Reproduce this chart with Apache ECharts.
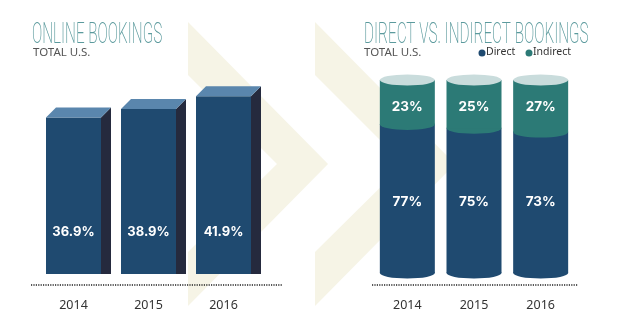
<!DOCTYPE html>
<html>
<head>
<meta charset="utf-8">
<script src="https://cdn.jsdelivr.net/npm/echarts@6/dist/echarts.min.js"></script>
<style>html,body{margin:0;padding:0;background:#fff;}#c{width:620px;height:330px;}</style>
</head>
<body>
<div id="c"></div>
<script>
var years = ['2014', '2015', '2016'];
var onlineBookings = [36.9, 38.9, 41.9];
var directShare = [77, 75, 73];
var indirectShare = [23, 25, 27];

var NAVY = '#1f4a70', NAVY_TOP = '#5a86ad', NAVY_SIDE = '#252a3e';
var TEAL = '#2c7a76', CAP = '#c9dcdc', BEIGE = '#f6f4e6';

function chevron(L) {
  return {
    type: 'polygon', silent: true, z: -10,
    shape: { points: [[L, 22], [L + 140, 164], [L, 306], [L, 252], [L + 89, 164], [L, 75]] },
    style: { fill: BEIGE }
  };
}
function dotted(x1, x2, y) {
  return { type: 'line', silent: true, shape: { x1: x1, y1: y, x2: x2, y2: y },
    style: { stroke: '#222', lineWidth: 1.3, lineDash: [1.2, 1.2] } };
}
function title(x, txt) {
  return { type: 'text', x: x, y: 20, scaleX: 0.51, silent: true,
    style: { text: txt, fill: '#5b9a9d', font: '200 30px Roboto, "Open Sans", sans-serif' } };
}
function sub(x) {
  return { type: 'text', x: x, y: 47, silent: true,
    style: { text: 'TOTAL U.S.', fill: '#555', font: '11.5px "Noto Sans", Arial, sans-serif' } };
}

var chart = echarts.init(document.getElementById('c'), null, { renderer: 'canvas' });
chart.setOption({
  animation: false,
  backgroundColor: '#fff',
  graphic: [
    chevron(188), chevron(315),
    title(32, 'ONLINE BOOKINGS'), sub(33),
    title(364, 'DIRECT VS. INDIRECT BOOKINGS'), sub(364),
    dotted(31, 282, 285), dotted(372, 578, 285),
    { type: 'circle', shape: { cx: 482, cy: 53, r: 3.5 }, style: { fill: NAVY } },
    { type: 'text', x: 486, y: 47, style: { text: 'Direct', fill: '#333', font: '10.5px "Noto Sans", Arial, sans-serif' } },
    { type: 'circle', shape: { cx: 529, cy: 53, r: 3.5 }, style: { fill: TEAL } },
    { type: 'text', x: 533, y: 47, style: { text: 'Indirect', fill: '#333', font: '10.5px "Noto Sans", Arial, sans-serif' } }
  ],
  grid: [
    { left: 36, width: 225, top: 62, bottom: 56 },
    { left: 374, width: 200, top: 80, bottom: 57 }
  ],
  xAxis: [
    { type: 'category', gridIndex: 0, data: years, axisLine: { show: false }, axisTick: { show: false },
      axisLabel: { margin: 25, color: '#333', fontSize: 12.5, fontFamily: '"Noto Sans", Arial, sans-serif' } },
    { type: 'category', gridIndex: 1, data: years, axisLine: { show: false }, axisTick: { show: false },
      axisLabel: { margin: 26, color: '#333', fontSize: 12.5, fontFamily: '"Noto Sans", Arial, sans-serif' } }
  ],
  yAxis: [
    { type: 'value', gridIndex: 0, min: 0, max: 50, show: false },
    { type: 'value', gridIndex: 1, min: 0, max: 100, show: false }
  ],
  series: [
    {
      type: 'custom', xAxisIndex: 0, yAxisIndex: 0,
      data: onlineBookings.map(function (v, i) { return [i, v]; }),
      renderItem: function (params, api) {
        var i = api.value(0), v = api.value(1);
        var top = api.coord([i, v]), base = api.coord([i, 0]), lab = api.coord([i, 10]);
        var cx = top[0], w = 55, d = 10, L = cx - w / 2, R = cx + w / 2;
        return { type: 'group', children: [
          { type: 'rect', shape: { x: L, y: top[1], width: w, height: base[1] - top[1] }, style: { fill: NAVY } },
          { type: 'polygon', shape: { points: [[R, top[1]], [R + d, top[1] - d], [R + d, base[1]], [R, base[1]]] }, style: { fill: NAVY_SIDE } },
          { type: 'polygon', shape: { points: [[L, top[1]], [L + d, top[1] - d], [R + d, top[1] - d], [R, top[1]]] }, style: { fill: NAVY_TOP } },
          { type: 'text', x: cx, y: lab[1], style: { text: v.toFixed(1) + '%', fill: '#fff', align: 'center', verticalAlign: 'middle',
            font: 'bold 13px Inter, "Noto Sans", Arial, sans-serif' } }
        ] };
      }
    },
    {
      type: 'custom', xAxisIndex: 1, yAxisIndex: 1,
      data: directShare.map(function (v, i) { return [i, v, indirectShare[i]]; }),
      renderItem: function (params, api) {
        var i = api.value(0), dv = api.value(1), iv = api.value(2);
        var yb = api.coord([i, dv])[1], y0 = api.coord([i, 0])[1], yt = api.coord([i, dv + iv])[1];
        var cx = api.coord([i, 0])[0], rx = 27.5, ry = 5.5, L = cx - rx;
        var ly1 = api.coord([i, 86])[1], ly2 = api.coord([i, 37])[1];
        function ell(y, fill) {
          return { type: 'circle', x: cx, y: y, scaleY: ry / rx, shape: { cx: 0, cy: 0, r: rx }, style: { fill: fill } };
        }
        return { type: 'group', children: [
          ell(y0, NAVY),
          { type: 'rect', shape: { x: L, y: yb, width: 2 * rx, height: y0 - yb }, style: { fill: NAVY } },
          ell(yb, TEAL),
          { type: 'rect', shape: { x: L, y: yt, width: 2 * rx, height: yb - yt }, style: { fill: TEAL } },
          ell(yt, CAP),
          { type: 'text', x: cx, y: ly1, style: { text: iv + '%', fill: '#fff', align: 'center', verticalAlign: 'middle',
            font: 'bold 13.5px Inter, "Noto Sans", Arial, sans-serif' } },
          { type: 'text', x: cx, y: ly2, style: { text: dv + '%', fill: '#fff', align: 'center', verticalAlign: 'middle',
            font: 'bold 13.5px Inter, "Noto Sans", Arial, sans-serif' } }
        ] };
      }
    }
  ]
});
</script>
</body>
</html>
